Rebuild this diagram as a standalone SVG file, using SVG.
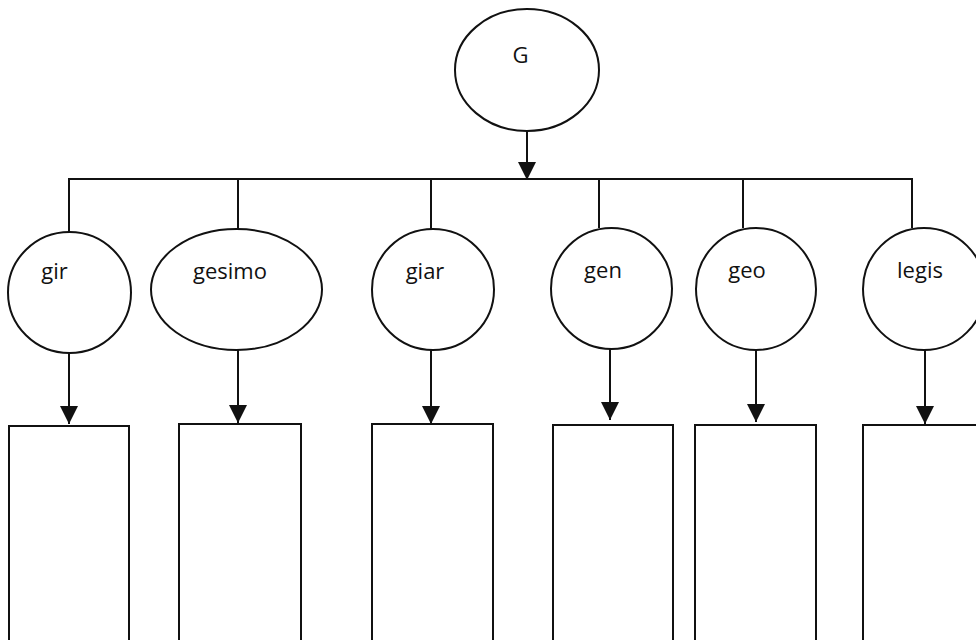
<svg xmlns="http://www.w3.org/2000/svg" width="976" height="640" viewBox="0 0 976 640">
  <style>
    .shape { fill: #ffffff; stroke: #111111; stroke-width: 2; }
    .lbl { font-family: "Open Sans", "Liberation Sans", sans-serif; font-size: 22px; fill: #111111; text-anchor: middle; }
    .conn { stroke: #111111; stroke-width: 2; fill: none; }
  </style>
  <defs>
    <marker id="arrow" markerUnits="userSpaceOnUse" markerWidth="18" markerHeight="18" viewBox="0 0 16 16" refX="16" refY="8" orient="auto">
      <path d="M0,0 L16,8 L0,16 Z" fill="#111111"/>
    </marker>
  </defs>
  <rect width="976" height="640" fill="#ffffff"/>

  <g id="connectors">
    <line class="conn" x1="527" y1="131" x2="527" y2="180" marker-end="url(#arrow)"/>
    <line class="conn" x1="68" y1="179" x2="913" y2="179"/>
    <line class="conn" x1="69" y1="179" x2="69" y2="232"/>
    <line class="conn" x1="238" y1="179" x2="238" y2="229"/>
    <line class="conn" x1="431" y1="179" x2="431" y2="229"/>
    <line class="conn" x1="599" y1="179" x2="599" y2="228"/>
    <line class="conn" x1="743" y1="179" x2="743" y2="228"/>
    <line class="conn" x1="912" y1="179" x2="912" y2="228"/>
    <line class="conn" x1="69" y1="353" x2="69" y2="424" marker-end="url(#arrow)"/>
    <line class="conn" x1="238" y1="350" x2="238" y2="423" marker-end="url(#arrow)"/>
    <line class="conn" x1="431" y1="350" x2="431" y2="424" marker-end="url(#arrow)"/>
    <line class="conn" x1="610" y1="349" x2="610" y2="420" marker-end="url(#arrow)"/>
    <line class="conn" x1="756" y1="350" x2="756" y2="422" marker-end="url(#arrow)"/>
    <line class="conn" x1="925" y1="350" x2="925" y2="424" marker-end="url(#arrow)"/>
  </g>

  <g id="node-G">
    <ellipse class="shape" cx="527" cy="70" rx="72" ry="61"/>
    <text class="lbl" x="520.5" y="63">G</text>
  </g>
  <g id="node-gir">
    <ellipse class="shape" cx="69.5" cy="292.5" rx="61.5" ry="60.5"/>
    <text class="lbl" x="54.5" y="279">gir</text>
  </g>
  <g id="node-gesimo">
    <ellipse class="shape" cx="236.5" cy="289.5" rx="85.5" ry="60.5"/>
    <text class="lbl" x="230" y="279">gesimo</text>
  </g>
  <g id="node-giar">
    <ellipse class="shape" cx="433" cy="289.5" rx="61" ry="60.5"/>
    <text class="lbl" x="425" y="279">giar</text>
  </g>
  <g id="node-gen">
    <ellipse class="shape" cx="611.5" cy="288.5" rx="60.5" ry="60.5"/>
    <text class="lbl" x="603" y="278">gen</text>
  </g>
  <g id="node-geo">
    <ellipse class="shape" cx="756" cy="289" rx="60" ry="61"/>
    <text class="lbl" x="747" y="278">geo</text>
  </g>
  <g id="node-legis">
    <ellipse class="shape" cx="924" cy="289" rx="61" ry="61"/>
    <text class="lbl" x="920" y="278">legis</text>
  </g>

  <g id="box-gir"><rect class="shape" x="9" y="426" width="120" height="240"/></g>
  <g id="box-gesimo"><rect class="shape" x="179" y="424" width="122" height="240"/></g>
  <g id="box-giar"><rect class="shape" x="372" y="424" width="121" height="240"/></g>
  <g id="box-gen"><rect class="shape" x="553" y="425" width="120" height="240"/></g>
  <g id="box-geo"><rect class="shape" x="695" y="425" width="121" height="240"/></g>
  <g id="box-legis"><rect class="shape" x="863" y="425" width="121" height="240"/></g>
</svg>
